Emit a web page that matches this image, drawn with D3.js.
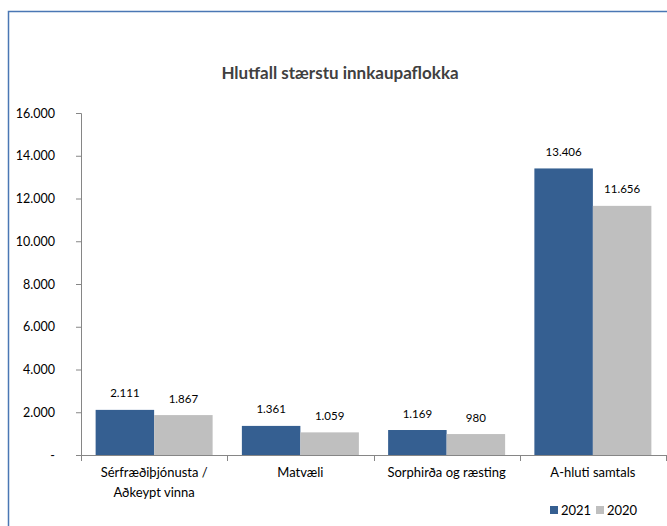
<!DOCTYPE html>
<html>
<head>
<meta charset="utf-8">
<script src="https://cdn.jsdelivr.net/npm/d3@7"></script>
<style>
  body { margin: 0; background: #fff; }
  text { font-family: Lato, "Open Sans", sans-serif; }
</style>
</head>
<body>
<div id="chart"></div>
<script>
const categories = ["Sérfræðiþjónusta / Aðkeypt vinna", "Matvæli", "Sorphirða og ræsting", "A-hluti samtals"];
const catLines = [["Sérfræðiþjónusta /", "Aðkeypt vinna"], ["Matvæli"], ["Sorphirða og ræsting"], ["A-hluti samtals"]];
const years = ["2021", "2020"];
const values2021 = [2111, 1361, 1169, 13406];
const values2020 = [1867, 1059, 980, 11656];
const yTicks = [0, 2000, 4000, 6000, 8000, 10000, 12000, 14000, 16000];

const colors = { "2021": "#355F91", "2020": "#BFBFBF" };
const fmt = v => v === 0 ? "-" : d3.format(",")(v).replace(/,/g, ".");

const W = 667, H = 526;
const svg = d3.select("#chart").append("svg")
    .attr("width", W).attr("height", H);

// frame
svg.append("rect")
    .attr("x", 8.5).attr("y", 11.5)
    .attr("width", W + 10).attr("height", H + 10)
    .attr("fill", "none")
    .attr("stroke", "#4A77B4")
    .attr("stroke-width", 1.5);

svg.append("text")
    .attr("x", 340).attr("y", 79)
    .attr("text-anchor", "middle")
    .attr("font-size", 17)
    .attr("font-weight", "bold")
    .attr("fill", "#404040")
    .text("Hlutfall stærstu innkaupaflokka");

const x0 = d3.scaleBand().domain(categories).range([81, 666]).paddingInner(0.2).paddingOuter(0.1);
const x1 = d3.scaleBand().domain(years).range([0, x0.bandwidth()]);
const y = d3.scaleLinear().domain([0, 16000]).range([455, 113]);

// y axis
const yAxis = svg.append("g")
    .attr("transform", "translate(81,0)")
    .call(d3.axisLeft(y).tickValues(yTicks).tickFormat(fmt).tickSize(5).tickPadding(21));
yAxis.select(".domain").attr("stroke", "#868686");
yAxis.selectAll(".tick line").attr("stroke", "#868686");
yAxis.selectAll("text").attr("font-size", 12.5).attr("fill", "#000")
    .attr("font-family", "Lato, sans-serif");

// x axis line + group boundary ticks
const bounds = d3.range(categories.length + 1).map(i => 81 + i * (585 / categories.length));
svg.append("line")
    .attr("x1", 76).attr("x2", 666)
    .attr("y1", 455.5).attr("y2", 455.5)
    .attr("stroke", "#868686");
svg.selectAll(".bt").data(bounds).enter().append("line")
    .attr("x1", d => Math.round(d) + 0.5).attr("x2", d => Math.round(d) + 0.5)
    .attr("y1", 455).attr("y2", 461)
    .attr("stroke", "#868686");

const rows = categories.map((c, i) => ({ cat: c, vals: [
  { year: "2021", v: values2021[i] }, { year: "2020", v: values2020[i] }] }));

const g = svg.selectAll(".grp").data(rows).enter().append("g")
    .attr("transform", d => `translate(${x0(d.cat)},0)`);

g.selectAll("rect").data(d => d.vals).enter().append("rect")
    .attr("x", d => x1(d.year))
    .attr("y", d => y(d.v))
    .attr("width", x1.bandwidth())
    .attr("height", d => y(0) - y(d.v))
    .attr("fill", d => colors[d.year]);

g.selectAll(".lbl").data(d => d.vals).enter().append("text")
    .attr("x", d => x1(d.year) + x1.bandwidth() / 2)
    .attr("y", d => y(d.v) - 12.5)
    .attr("text-anchor", "middle")
    .attr("font-size", 11.5)
    .attr("fill", "#000")
    .text(d => fmt(d.v));

// category labels
svg.selectAll(".cat").data(categories).enter().append("text")
    .attr("x", d => x0(d) + x0.bandwidth() / 2)
    .attr("y", 477)
    .attr("text-anchor", "middle")
    .attr("font-size", 13)
    .attr("fill", "#000")
    .each(function(d, i) {
      d3.select(this).selectAll("tspan").data(catLines[i]).enter().append("tspan")
        .attr("x", x0(d) + x0.bandwidth() / 2)
        .attr("dy", (t, j) => j === 0 ? 0 : 20)
        .text(t => t);
    });

// legend
const leg = svg.selectAll(".leg").data(years).enter().append("g")
    .attr("transform", (d, i) => `translate(${550 + i * 46},506)`);
leg.append("rect").attr("width", 8).attr("height", 8).attr("fill", d => colors[d]);
leg.append("text").attr("x", 11).attr("y", 9)
    .attr("font-size", 13).attr("fill", "#000").text(d => d);
</script>
</body>
</html>
